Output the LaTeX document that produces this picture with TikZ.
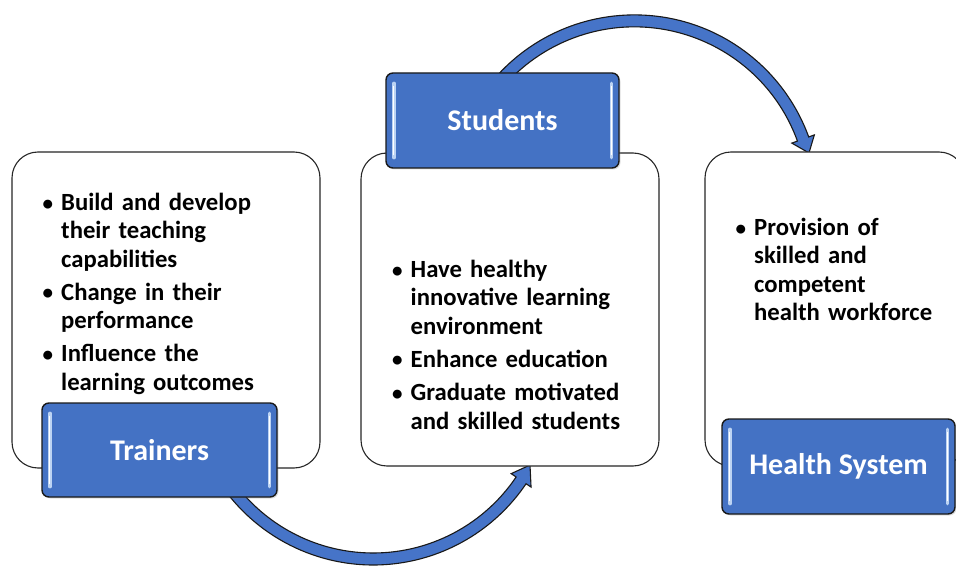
\documentclass[tikz,border=0pt]{standalone}
\usepackage{fontspec}
\setmainfont{Carlito}
\usetikzlibrary{calc,shadows}
\definecolor{tabblue}{HTML}{4472C4}
\definecolor{arrblue}{HTML}{4674C8}
\definecolor{hilite}{HTML}{BCD3F3}
\newcommand\bitem[1]{\par\noindent\hspace*{-17pt}\makebox[17pt][l]{\hspace{-1.5pt}\raisebox{0.5pt}{\fontsize{21}{21}\selectfont\textbullet}}#1}
\newcommand\itemgap{\par\vspace{5pt}}
\begin{document}
\begin{tikzpicture}[x=1pt,y=-1pt,
  card/.style={draw=black!85, line width=1.1pt, fill=white, rounded corners=26pt},
  tab/.style={draw=black!90, line width=1.4pt, fill=tabblue, rounded corners=7pt,
    text=white, font=\fontsize{30}{34}\selectfont\bfseries,
    drop shadow={shadow xshift=1.5pt, shadow yshift=-1.5pt, opacity=0.25}},
  bullets/.style={anchor=north west, inner sep=0pt, text width=300pt,
    font=\fontsize{24.7}{28.3}\selectfont\bfseries},
  arrowshape/.style={fill=arrblue, draw=black!90, line width=1.1pt, line join=miter},
  glint/.style={line width=3.4pt, line cap=round, hilite},
  glintcore/.style={line width=1pt, line cap=round, white}]
\useasboundingbox (0,0) rectangle (956,567);
\clip (0,0) rectangle (956,567);
% arc centres
\coordinate (bc) at (373.2,380.6);
\coordinate (tc) at (634.4,200.4);
% arrows
\path[arrowshape, shift={(bc)}] (145:184.4) arc[start angle=145, end angle=34, radius=184.4]
  -- (34:190.4) -- (28.3:178.1) -- (34:166.4) -- (34:172.4)
  arc[start angle=34, end angle=145, radius=172.4] -- cycle;
\path[arrowshape, shift={(tc)}] (-140:185.5) arc[start angle=-140, end angle=-20, radius=185.5]
  -- (-20:191.5) -- (-15.2:180.9) -- (-20:167.5) -- (-20:173.5)
  arc[start angle=-20, end angle=-140, radius=173.5] -- cycle;
% cards
\node[card, minimum width=308pt, minimum height=316pt] (tcard) at (166,310) {};
\node[card, minimum width=298pt, minimum height=313pt] (scard) at (510,309.5) {};
\node[card, minimum width=260pt, minimum height=314pt] (hcard) at (835,309) {};
% texts
\node[bullets] (ttext) at (44,182) {\leftskip=17pt
  \bitem{\rule{0pt}{20pt}Build and develop\\their teaching\\capabilities}\itemgap
  \bitem{Change in their\\performance}\itemgap
  \bitem{Influence the\\learning outcomes}\par};
\node[bullets] (stext) at (393.5,249) {\leftskip=17pt
  \bitem{\rule{0pt}{20pt}Have healthy\\innovative learning\\environment}\itemgap
  \bitem{Enhance education}\itemgap
  \bitem{Graduate motivated\\and skilled students}\par};
\node[bullets] (htext) at (737,207) {\leftskip=17pt
  \bitem{\rule{0pt}{20pt}Provision of\\skilled and\\competent\\health workforce}\par};
% tabs
\node[tab, minimum width=235pt, minimum height=94pt] (ttab) at (159.5,450) {Trainers};
\node[tab, minimum width=233pt, minimum height=95pt] (stab) at (502.5,120.5) {Students};
\node[tab, minimum width=233pt, minimum height=95pt] (htab) at (838.5,466.5) {Health System};
\foreach \t in {ttab,stab,htab}{
  \draw[glint] ([xshift=8.5pt,yshift=-11pt]\t.north west) -- ([xshift=8.5pt,yshift=11pt]\t.south west);
  \draw[glint] ([xshift=-8.5pt,yshift=-11pt]\t.north east) -- ([xshift=-8.5pt,yshift=11pt]\t.south east);
  \draw[glintcore] ([xshift=8.5pt,yshift=-14pt]\t.north west) -- ([xshift=8.5pt,yshift=14pt]\t.south west);
  \draw[glintcore] ([xshift=-8.5pt,yshift=-14pt]\t.north east) -- ([xshift=-8.5pt,yshift=14pt]\t.south east);
}
\end{tikzpicture}
\end{document}
